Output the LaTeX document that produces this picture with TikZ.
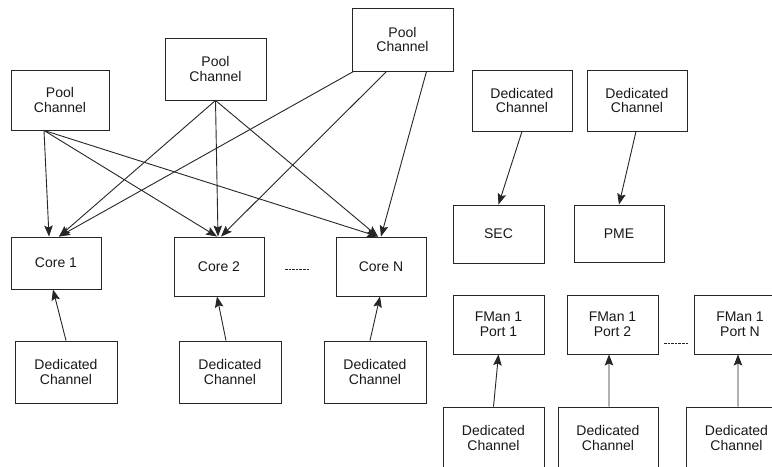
\documentclass[tikz,border=0pt]{standalone}
\usepackage{fontspec}
\setmainfont{Liberation Sans}
\usetikzlibrary{arrows.meta}
\tikzset{
  box/.style={draw=black!85, line width=0.9bp, inner sep=0pt, align=center,
    font=\fontsize{14bp}{14.5bp}\selectfont, text=black!90},
  wide/.style={box, minimum width=101bp, minimum height=62bp},
  small/.style={box, minimum width=90bp, minimum height=59bp},
  arr/.style={draw=black!85, line width=0.9bp, -{Stealth[length=11bp,width=8.5bp,inset=2bp]}},
  dots/.style={draw=black!85, line width=0.8bp, dash pattern=on 2.6bp off 1bp}
}
\begin{document}
\begin{tikzpicture}[x=1bp,y=-1bp]
\clip (0,0) rectangle (772,467);
\fill[white] (0,0) rectangle (772,467);
% pool channels
\node[wide, minimum width=98bp, minimum height=60bp] (p1) at (60,100) {Pool\\Channel};
\node[wide] (p2) at (215.5,69) {Pool\\Channel};
\node[wide, minimum height=63bp] (p3) at (402.5,39.5) {Pool\\Channel};
% cores
\node[small, minimum height=52bp] (c1) at (56,263) {Core 1};
\node[small] (c2) at (219,266.5) {Core 2};
\node[small] (cn) at (381,266.5) {Core N};
% dedicated (left)
\node[wide, minimum width=102bp] (d1) at (66,372) {Dedicated\\Channel};
\node[wide, minimum width=102bp] (d2) at (230,372) {Dedicated\\Channel};
\node[wide, minimum width=102bp] (d3) at (375,372) {Dedicated\\Channel};
% right top
\node[wide, minimum width=100bp, minimum height=61bp] (ds) at (522,100.5) {Dedicated\\Channel};
\node[wide, minimum width=100bp, minimum height=61bp] (dp) at (637,100.5) {Dedicated\\Channel};
\node[small, minimum width=91bp, minimum height=58bp] (sec) at (498.5,234) {SEC};
\node[small, minimum height=57bp] (pme) at (619,233.5) {PME};
% fman ports
\node[small, minimum width=91bp] (f1) at (498.5,324.5) {FMan 1\\Port 1};
\node[small, minimum width=91bp] (f2) at (612.5,324.5) {FMan 1\\Port 2};
\node[small, minimum width=91bp] (fn) at (740,324.5) {FMan 1\\Port N};
% bottom dedicated
\node[wide] (b1) at (493.5,438) {Dedicated\\Channel};
\node[wide, minimum width=100bp] (b2) at (608,438) {Dedicated\\Channel};
\node[wide] (b3) at (736.5,438) {Dedicated\\Channel};
% dashed gaps
\coordinate (g1a) at (285,269); \coordinate (g1b) at (310,269);
\draw[dots] (g1a) -- (g1b);
\coordinate (g2a) at (664,343); \coordinate (g2b) at (688,343);
\draw[dots] (g2a) -- (g2b);
% pool arrows
\draw[arr] ([xshift=-16bp]p1.south) -- ([xshift=-7bp]c1.north);
\draw[arr] ([xshift=-16bp]p1.south) -- ([xshift=-2bp]c2.north);
\draw[arr] ([xshift=-16bp]p1.south) -- ([xshift=-3bp]cn.north);
\draw[arr] (p2.south) -- ([xshift=3bp]c1.north);
\draw[arr] (p2.south) -- ([xshift=-1bp]c2.north);
\draw[arr] (p2.south) -- ([xshift=-3bp]cn.north);
\draw[arr] ([xshift=2bp]p3.south west) -- ([xshift=3bp]c1.north);
\draw[arr] ([xshift=-16bp]p3.south) -- ([xshift=2bp]c2.north);
\draw[arr] ([xshift=24bp]p3.south) -- ([xshift=0bp]cn.north);
% dedicated to cores
\draw[arr] (d1.north) -- ([xshift=-3bp]c1.south);
\draw[arr] ([xshift=-4bp]d2.north) -- ([xshift=-2bp]c2.south);
\draw[arr] ([xshift=-5bp]d3.north) -- ([xshift=-1bp]cn.south);
% right
\draw[arr] (ds.south) -- (sec.north);
\draw[arr] ([xshift=-1bp]dp.south) -- (pme.north);
\draw[arr] (b1.north) -- (f1.south);
\draw[arr] ([xshift=1bp]b2.north) -- ([xshift=-3.5bp]f2.south);
\draw[arr] ([xshift=1.5bp]b3.north) -- ([xshift=-2bp]fn.south);
\end{tikzpicture}
\end{document}
